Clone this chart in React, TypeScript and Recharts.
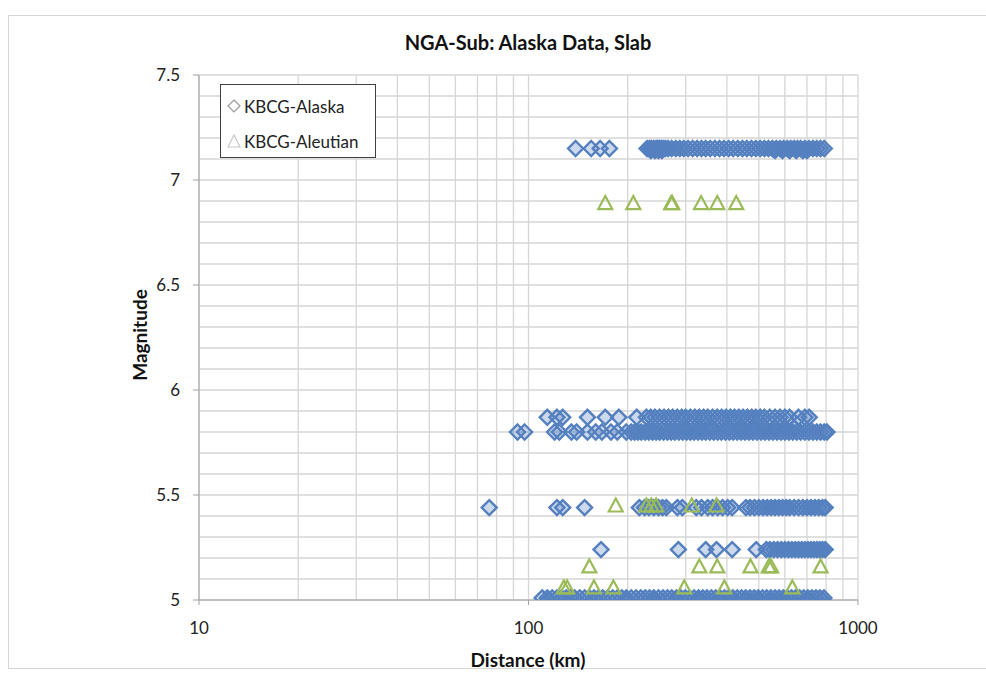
import React from 'react';
import { ScatterChart, Scatter, XAxis, YAxis, CartesianGrid, Legend } from 'recharts';

// distances (km), grouped by magnitude row
const alaskaM715 = [139, 155, 165, 176, 229, 233, 236, 240, 244, 247, 250, 253, 256, 260, 265, 272, 280, 288, 296, 305, 315, 325, 335, 345, 356, 368, 380, 392, 405, 418, 432, 446, 460, 475, 490, 505, 520, 535, 550, 565, 580, 595, 610, 625, 640, 655, 670, 690, 710, 730, 750, 770, 790];
const alaskaM714 = [235, 242, 248, 254, 560, 590, 620, 650, 680, 700];
const alaskaM587 = [114, 122, 127, 151, 171, 188, 213, 228, 235, 242, 250, 258, 266, 274, 283, 292, 300, 310, 320, 330, 340, 350, 362, 374, 386, 398, 410, 422, 435, 448, 462, 476, 490, 505, 520, 540, 560, 580, 600, 620, 660, 690, 711];
const alaskaM580 = [92.6, 97.3, 120, 124, 135, 140, 151, 160, 167, 178, 186, 198, 205, 210, 215, 220, 226, 232, 238, 244, 250, 257, 264, 271, 278, 286, 294, 302, 310, 318, 327, 336, 345, 355, 365, 375, 385, 396, 407, 418, 430, 442, 454, 467, 480, 494, 508, 522, 537, 552, 568, 584, 600, 617, 634, 652, 670, 690, 710, 730, 750, 770, 790, 805];
const alaskaM582 = [300, 330, 360, 400, 440, 480, 520, 560, 600, 640];
const alaskaM544 = [76, 122, 127, 148, 217, 225, 232, 240, 248, 255, 262, 283, 293, 323, 335, 350, 362, 375, 388, 402, 415, 457, 470, 485, 500, 515, 530, 545, 560, 575, 590, 605, 620, 640, 660, 680, 700, 720, 740, 760, 780, 795];
const alaskaM524 = [166, 285, 345, 372, 415, 491, 527, 540, 555, 570, 585, 600, 615, 630, 645, 660, 675, 690, 705, 720, 735, 750, 765, 780, 795];
const alaskaM501 = [110, 114, 118, 122, 126, 130, 134, 138, 143, 148, 153, 158, 163, 168, 174, 180, 186, 192, 198, 205, 212, 219, 226, 233, 240, 248, 256, 264, 272, 281, 290, 299, 308, 318, 328, 338, 348, 359, 370, 381, 393, 405, 417, 430, 443, 456, 470, 484, 498, 513, 528, 544, 560, 576, 593, 610, 628, 646, 665, 684, 704, 724, 745, 766, 788];
const alaskaM500 = [115, 125, 140, 160, 200, 240, 280, 330, 380, 420, 460, 500, 540, 600, 700, 780];

const aleutianM689 = [171, 208, 271, 273, 334, 374, 427];
const aleutianM545 = [184, 228, 236, 244, 313, 372];
const aleutianM516 = [153, 330, 374, 472, 536, 545, 770];
const aleutianM506 = [128, 131, 158, 181, 297, 393, 632];

const xTicks = [10, 20, 30, 40, 50, 60, 70, 80, 90, 100, 200, 300, 400, 500, 600, 700, 800, 900, 1000];
const xMajor = [10, 100, 1000];
const yTicks = [5, 5.1, 5.2, 5.3, 5.4, 5.5, 5.6, 5.7, 5.8, 5.9, 6, 6.1, 6.2, 6.3, 6.4, 6.5, 6.6, 6.7, 6.8, 6.9, 7, 7.1, 7.2, 7.3, 7.4, 7.5];

const row = (dists: number[], mag: number) => dists.map((d) => ({ dist: d, mag }));

const alaskaData = [
  ...row(alaskaM715, 7.15),
  ...row(alaskaM714, 7.14),
  ...row(alaskaM587, 5.87),
  ...row(alaskaM580, 5.8),
  ...row(alaskaM582, 5.82),
  ...row(alaskaM544, 5.44),
  ...row(alaskaM524, 5.24),
  ...row(alaskaM501, 5.01),
  ...row(alaskaM500, 5.0),
];

const aleutianData = [
  ...row(aleutianM689, 6.89),
  ...row(aleutianM545, 5.45),
  ...row(aleutianM516, 5.16),
  ...row(aleutianM506, 5.06),
];

const FONT = 'Lato, "Open Sans", sans-serif';
const BLUE = '#5580c0';
const GREEN = '#9bbb59';

const Diamond = (props: any) => {
  const { cx, cy } = props;
  if (cx == null || cy == null) return <g />;
  return (
    <polygon
      points={`${cx},${cy - 7.5} ${cx + 7.5},${cy} ${cx},${cy + 7.5} ${cx - 7.5},${cy}`}
      fill={BLUE}
      fillOpacity={0.3}
      stroke={BLUE}
      strokeWidth={2.4}
    />
  );
};

const Triangle = (props: any) => {
  const { cx, cy } = props;
  if (cx == null || cy == null) return <g />;
  return (
    <polygon
      points={`${cx},${cy - 7} ${cx + 7},${cy + 6} ${cx - 7},${cy + 6}`}
      fill="none"
      stroke={GREEN}
      strokeWidth={2.2}
    />
  );
};

const XTick = (props: any) => {
  const { x, y, payload } = props;
  if (!xMajor.includes(payload.value)) return <g />;
  return (
    <g>
      <line x1={x} x2={x} y1={y} y2={y + 5} stroke="#a0a0a0" />
      <text x={x} y={y + 34} textAnchor="middle" fontSize={17} fill="#222" fontFamily={FONT}>
        {payload.value}
      </text>
    </g>
  );
};

const YTick = (props: any) => {
  const { x, y, payload } = props;
  const v = payload.value;
  if (Math.abs(v * 2 - Math.round(v * 2)) > 1e-6) return <g />;
  return (
    <g>
      <line x1={x - 6} x2={x} y1={y} y2={y} stroke="#a0a0a0" />
      <text x={x - 19} y={y + 6} textAnchor="end" fontSize={17} fill="#222" fontFamily={FONT}>
        {String(Math.round(v * 10) / 10)}
      </text>
    </g>
  );
};

const LegendBox = () => (
  <div
    style={{
      width: 156,
      height: 74,
      border: '1px solid #404040',
      background: '#fff',
      fontFamily: FONT,
      fontSize: 17,
      color: '#222',
      boxSizing: 'border-box',
    }}
  >
    <div style={{ display: 'flex', alignItems: 'center', height: 18, marginTop: 12, marginLeft: 6 }}>
      <svg width={14} height={14} style={{ marginRight: 3 }}>
        <polygon points="7,1 13,7 7,13 1,7" fill="none" stroke="#9a9a9a" strokeWidth={1.2} />
      </svg>
      KBCG-Alaska
    </div>
    <div style={{ display: 'flex', alignItems: 'center', height: 18, marginTop: 17, marginLeft: 6 }}>
      <svg width={14} height={14} style={{ marginRight: 3 }}>
        <polygon points="7,1 13,13 1,13" fill="none" stroke="#c8c8c8" strokeWidth={1.2} />
      </svg>
      KBCG-Aleutian
    </div>
  </div>
);

export default function App() {
  return (
    <div
      style={{
        position: 'absolute',
        left: 0,
        top: 0,
        width: 986,
        height: 677,
        overflow: 'hidden',
        background: '#fff',
        fontFamily: FONT,
      }}
    >
      <div
        style={{
          position: 'absolute',
          left: 8,
          top: 15,
          width: 1000,
          height: 652,
          border: '1px solid #d6d6d6',
        }}
      />
      <ScatterChart width={986} height={677} margin={{ top: 75, right: 128, bottom: 37, left: 139 }}>
        <CartesianGrid stroke="#d6d6d6" strokeWidth={1.3} />
        <XAxis
          type="number"
          dataKey="dist"
          scale="log"
          domain={[10, 1000]}
          ticks={xTicks}
          interval={0}
          allowDataOverflow
          height={40}
          stroke="#a0a0a0"
          tickLine={false}
          tickSize={0}
          tickMargin={0}
          tick={<XTick />}
        />
        <YAxis
          type="number"
          dataKey="mag"
          domain={[5, 7.5]}
          ticks={yTicks}
          interval={0}
          allowDataOverflow
          width={60}
          stroke="#a0a0a0"
          tickLine={false}
          tickSize={0}
          tickMargin={0}
          tick={<YTick />}
        />
        <Legend
          layout="horizontal"
          align="center"
          verticalAlign="middle"
          content={<LegendBox />}
          wrapperStyle={{ position: 'absolute', left: 220, top: 84, width: 156 }}
        />
        <Scatter name="KBCG-Alaska" data={alaskaData} shape={<Diamond />} isAnimationActive={false} />
        <Scatter name="KBCG-Aleutian" data={aleutianData} shape={<Triangle />} isAnimationActive={false} />
      </ScatterChart>
      <div
        style={{
          position: 'absolute',
          left: 328,
          top: 31,
          width: 400,
          textAlign: 'center',
          fontSize: 20,
          fontWeight: 700,
          lineHeight: '22px',
          color: '#111',
        }}
      >
        NGA-Sub: Alaska Data, Slab
      </div>
      <div
        style={{
          position: 'absolute',
          left: 378,
          top: 649,
          width: 300,
          textAlign: 'center',
          fontSize: 19,
          fontWeight: 700,
          lineHeight: '22px',
          color: '#111',
        }}
      >
        Distance (km)
      </div>
      <div
        style={{
          position: 'absolute',
          left: 140,
          top: 335,
          transform: 'translate(-50%, -50%) rotate(-90deg)',
          fontSize: 19,
          fontWeight: 700,
          lineHeight: '22px',
          color: '#111',
          whiteSpace: 'nowrap',
        }}
      >
        Magnitude
      </div>
    </div>
  );
}
